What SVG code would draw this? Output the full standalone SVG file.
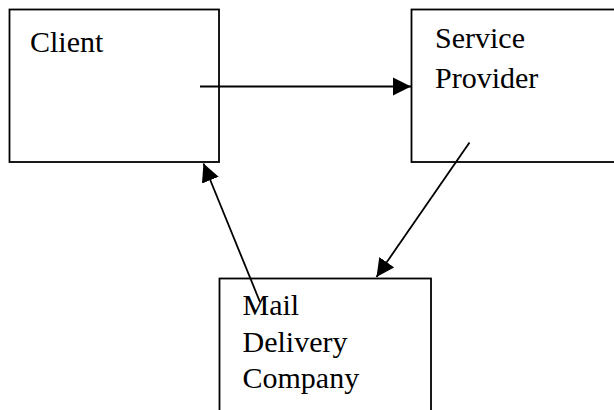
<svg xmlns="http://www.w3.org/2000/svg" width="614" height="410" viewBox="0 0 614 410">
  <style>
    .box { fill: #ffffff; stroke: #000000; stroke-width: 1.8; }
    .lbl { font-family: "Liberation Serif", "Times New Roman", serif; font-size: 30px; fill: #000000; }
    .edge { stroke: #000000; stroke-width: 1.8; fill: none; }
  </style>
  <defs>
    <marker id="head" viewBox="0 0 10 10" refX="10" refY="5" markerWidth="18" markerHeight="19" markerUnits="userSpaceOnUse" orient="auto">
      <path d="M0,0 L10,5 L0,10 Z" fill="#000000"/>
    </marker>
  </defs>
  <rect width="614" height="410" fill="#ffffff"/>

  <g id="client">
    <rect class="box" x="9.5" y="9.5" width="209.5" height="152.5"/>
    <text class="lbl" x="30" y="52">Client</text>
  </g>

  <g id="service-provider">
    <rect class="box" x="411.5" y="9.5" width="210" height="152.5"/>
    <text class="lbl" x="435" y="48">Service</text>
    <text class="lbl" x="435" y="88">Provider</text>
  </g>

  <g id="mail-delivery">
    <rect class="box" x="219.5" y="278.5" width="211.5" height="145"/>
    <text class="lbl" x="242.5" y="315">Mail</text>
    <text class="lbl" x="242.5" y="351.5">Delivery</text>
    <text class="lbl" x="242.5" y="388">Company</text>
  </g>

  <g id="connectors">
    <line class="edge" x1="200" y1="86.5" x2="411" y2="86.5" marker-end="url(#head)"/>
    <line class="edge" x1="469.5" y1="142.5" x2="376.5" y2="277" marker-end="url(#head)"/>
    <line class="edge" x1="260" y1="302" x2="203.5" y2="163.5" marker-end="url(#head)"/>
  </g>
</svg>
